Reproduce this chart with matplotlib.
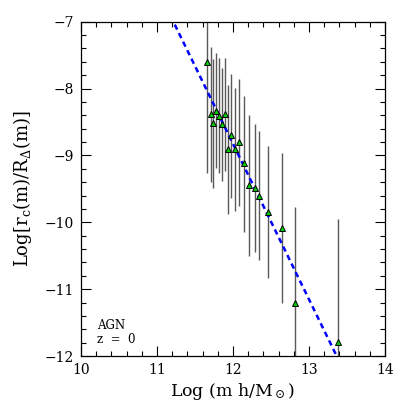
import matplotlib
matplotlib.use("Agg")
import matplotlib.pyplot as plt
import numpy as np

plt.rcParams['font.family'] = ['DejaVu Serif']
plt.rcParams['mathtext.fontset'] = 'dejavuserif'

# log mass, log(r_c/R_Delta) and the lower / upper ends of the error bars
log_m = [11.66, 11.71, 11.78, 11.82, 11.89, 11.74, 11.85, 11.98, 11.93, 12.03,
         12.08, 12.14, 12.21, 12.29, 12.34, 12.46, 12.65, 12.82, 13.38]
log_r = [-7.61, -8.38, -8.33, -8.41, -8.38, -8.52, -8.53, -8.70, -8.90, -8.90,
         -8.80, -9.12, -9.44, -9.48, -9.60, -9.84, -10.09, -11.20, -11.79]
err_lo = [-9.26, -9.40, -9.19, -9.27, -9.23, -9.49, -9.38, -9.63, -9.88, -9.83,
          -9.75, -10.15, -10.50, -10.45, -10.56, -10.84, -11.21, -12.5, -12.5]
err_hi = [-6.5, -7.38, -7.47, -7.55, -7.54, -7.56, -7.69, -7.78, -7.95, -7.99,
          -7.86, -8.11, -8.39, -8.53, -8.64, -8.86, -8.97, -9.77, -9.95]

# fitted line  y = a + b x
fit_a = 19.097
fit_b = -2.327

fig = plt.figure(figsize=(4.07, 4.07), dpi=100)
ax = fig.add_axes([0.199, 0.1253, 0.747, 0.8214])

ax.vlines(log_m, err_lo, err_hi, colors='0.35', lw=1.0, zorder=1)

xf = np.array([10.0, 14.0])
ax.plot(xf, fit_a + fit_b * xf, color='#0000ff', lw=1.8, ls=(0, (2.2, 1.6)), zorder=2)

ax.plot(log_m, log_r, ls='none', marker='^', ms=4.6, mfc='#00cc00', mec='black',
        mew=0.7, zorder=3)

ax.set_xlim(10, 14)
ax.set_ylim(-12, -7)
ax.set_xticks([10, 11, 12, 13, 14])
ax.set_yticks([-12, -11, -10, -9, -8, -7])
ax.set_xticks(np.arange(10, 14.01, 0.2), minor=True)
ax.set_yticks(np.arange(-12, -6.99, 0.2), minor=True)
ax.tick_params(which='both', direction='in', top=True, right=True, width=0.8,
               labelsize=10, colors='black')
ax.tick_params(which='major', length=7.5, pad=5)
ax.tick_params(which='minor', length=3.8)
for s in ax.spines.values():
    s.set_linewidth(0.9)

ax.set_xlabel(r'Log (m h/M$_\odot$)', fontsize=12.5, labelpad=3)
ax.set_ylabel(r'Log[r$_{\rm c}$(m)/R$_\Delta$(m)]', fontsize=13, labelpad=8)

ax.text(0.052, 0.09, 'AGN', transform=ax.transAxes, fontsize=8.5, va='center')
ax.text(0.052, 0.048, 'z  =  0', transform=ax.transAxes, fontsize=8.5, va='center')

fig.savefig('out.png', dpi=100)
